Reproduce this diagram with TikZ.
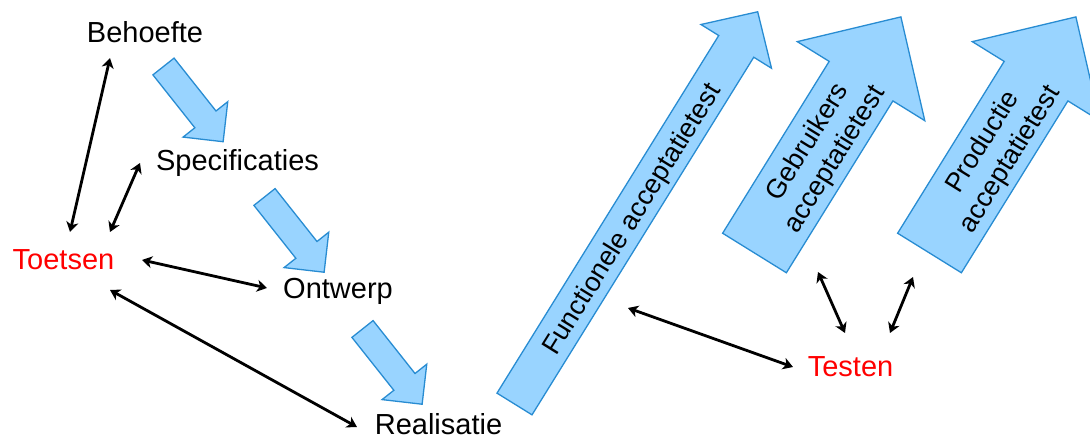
\documentclass[tikz,border=0pt]{standalone}
\usepackage{fontspec}
\setmainfont{Liberation Sans}
\usetikzlibrary{arrows.meta}
\definecolor{arrowfill}{RGB}{153,212,255}
\definecolor{arrowline}{RGB}{40,140,210}
\definecolor{labelred}{RGB}{255,0,0}
\newcommand\myblockarrow[8]{% name, x, y, angle, length, shaft half, head half, head length
  \begin{scope}[shift={(#2,#3)},rotate=#4]
    \draw[blockarrow] (0,-#6) -- ({#5-#8},-#6) -- ({#5-#8},-#7) -- (#5,0) -- ({#5-#8},#7) -- ({#5-#8},#6) -- (0,#6) -- cycle;
    \coordinate (#1) at ({#5/2},0);
  \end{scope}}
\tikzset{
  blockarrow/.style={fill=arrowfill,draw=arrowline,line width=1.3pt,line join=miter},
  lbl/.style={font=\fontsize{29}{35}\selectfont,inner sep=0pt,anchor=base},
  redlbl/.style={lbl,text=labelred},
  inlbl/.style={font=\fontsize{27}{32.4}\selectfont,align=center,inner sep=0pt,rotate=58.2},
  link/.style={line width=2.8pt,{Stealth[length=10pt,width=12pt,inset=3pt]}-{Stealth[length=10pt,width=12pt,inset=3pt]}}
}
\begin{document}
\begin{tikzpicture}[x=1pt,y=1pt]
\clip (0,0) rectangle (1090,436);
\fill[white] (0,0) rectangle (1090,436);
% small process arrows
\myblockarrow{sa1}{163.5}{369.5}{-51.6}{96}{13.5}{28.5}{28.5}
\myblockarrow{sa2}{264.5}{239}{-51.6}{96}{13.5}{28.5}{28.5}
\myblockarrow{sa3}{362.5}{107}{-51.6}{96}{13.5}{28.5}{28.5}
% big test arrows
\myblockarrow{ba1}{514.5}{32}{58.2}{461.5}{20.6}{41.5}{40.7}
\myblockarrow{ba2}{754.5}{183}{58.2}{277.8}{37.5}{75}{75.6}
\myblockarrow{ba3}{929.5}{183}{58.2}{277.8}{37.5}{75}{75.6}
% labels
\node[lbl] (beh) at (145,393.6) {Behoefte};
\node[lbl] (spec) at (237.5,265.6) {Specificaties};
\node[redlbl] (toe) at (63.5,166.6) {Toetsen};
\node[lbl] (ont) at (338,137.6) {Ontwerp};
\node[lbl] (real) at (438.5,1) {Realisatie};
\node[redlbl] (tes) at (850.5,59.6) {Testen};
\node[inlbl] (fat) at (633,216) {Functionele acceptatietest};
\node[inlbl] (gat) at (822,285) {Gebruikers\\acceptatietest};
\node[inlbl] (pat) at (997,285) {Productie\\acceptatietest};
% connector end points
\coordinate (c1a) at (110,378); \coordinate (c1b) at (70,204);
\coordinate (c2a) at (140,273); \coordinate (c2b) at (110,204);
\coordinate (c3a) at (142,176); \coordinate (c3b) at (267,148);
\coordinate (c4a) at (110,146); \coordinate (c4b) at (357,9);
\coordinate (c5a) at (628,128); \coordinate (c5b) at (793,69);
\coordinate (c6a) at (818,164); \coordinate (c6b) at (845,103);
\coordinate (c7a) at (913,159); \coordinate (c7b) at (890,103);
\draw[link] (c1a) -- (c1b);
\draw[link] (c2a) -- (c2b);
\draw[link] (c3a) -- (c3b);
\draw[link] (c4a) -- (c4b);
\draw[link] (c5a) -- (c5b);
\draw[link] (c6a) -- (c6b);
\draw[link] (c7a) -- (c7b);
\end{tikzpicture}
\end{document}
